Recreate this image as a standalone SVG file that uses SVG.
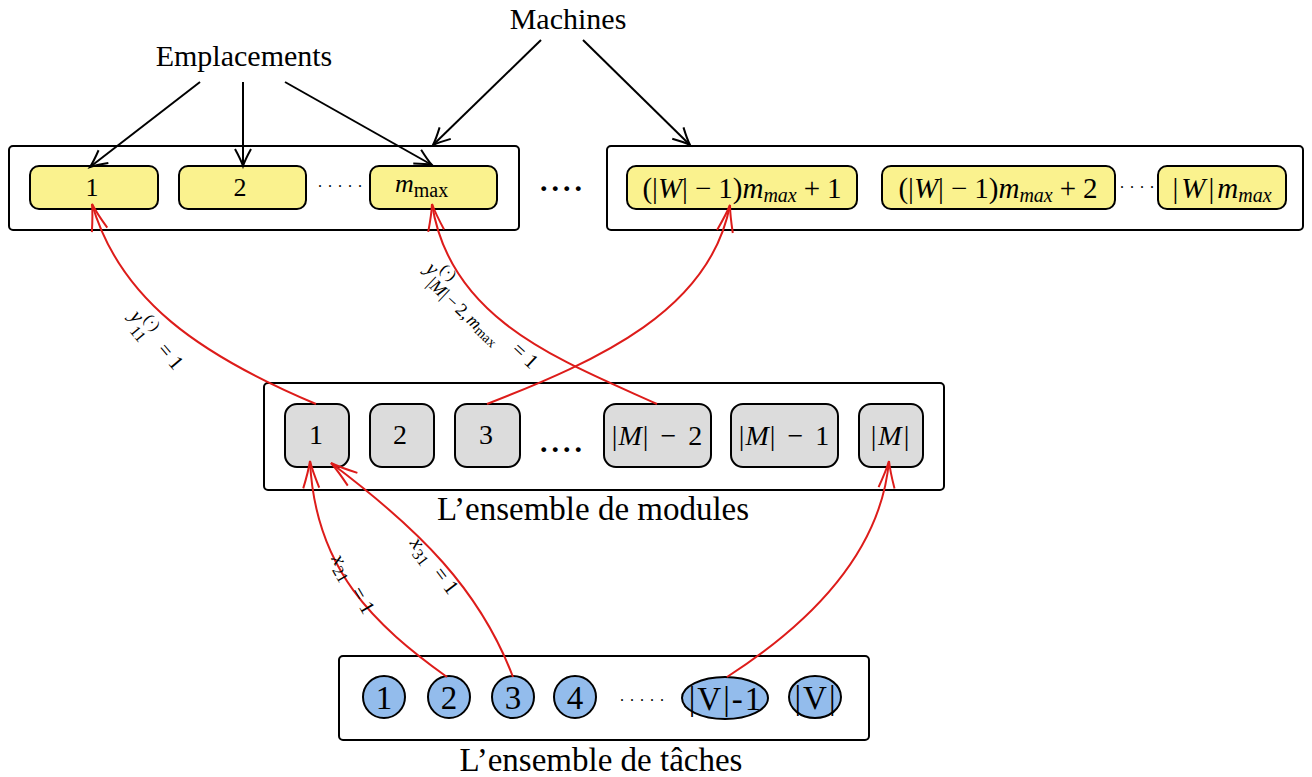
<svg xmlns="http://www.w3.org/2000/svg" width="1312" height="777" viewBox="0 0 1312 777">
<style>
  text { font-family: "Liberation Serif", "DejaVu Serif", serif; fill: #000; }
  .it { font-style: italic; }
  .cont { fill: #fff; stroke: #000; stroke-width: 2; }
  .yel { fill: #faf28e; stroke: #000; stroke-width: 2; }
  .gry { fill: #dcdcdc; stroke: #000; stroke-width: 2; }
  .blu { fill: #93bcec; stroke: #000; stroke-width: 2; }
  .blk { fill: none; stroke: #000; stroke-width: 2; marker-end: url(#ah-black); }
  .red { fill: none; stroke: #dd1c1a; stroke-width: 2; marker-end: url(#ah-red); }
  .lbl { font-size: 33px; }
  .ttl { font-size: 30px; }
  .yt { font-size: 26px; }
  .wt { font-size: 29px; }
  .mt { font-size: 28px; }
  .tt { font-size: 33px; }
  .el { font-size: 21px; }
  .es { font-size: 16px; }
  .dots { font-size: 16px; letter-spacing: 6px; }
  .bdots { font-size: 30px; font-weight: bold; letter-spacing: 4px; }
</style>
<defs>
  <marker id="ah-black" markerUnits="userSpaceOnUse" viewBox="-20 -10 22 20" refX="0" refY="0" markerWidth="22" markerHeight="20" orient="auto" overflow="visible">
    <path d="M-17,-8 Q-6,-2 0,0 Q-6,2 -17,8" fill="none" stroke="#000" stroke-width="2"/>
  </marker>
  <marker id="ah-red" markerUnits="userSpaceOnUse" viewBox="-30 -10 32 20" refX="0" refY="0" markerWidth="32" markerHeight="20" orient="auto" overflow="visible">
    <path d="M-27,-8 Q-10,-2 0,0 Q-10,2 -27,8" fill="none" stroke="#dd1c1a" stroke-width="2"/>
  </marker>
</defs>

<!-- Containers -->
<g id="container-emplacements-1">
  <rect class="cont" x="9" y="146" width="510" height="84" rx="4"/>
</g>
<g id="container-emplacements-2">
  <rect class="cont" x="607" y="146" width="696" height="84" rx="4"/>
</g>
<g id="container-modules">
  <rect class="cont" x="264" y="383" width="680" height="107" rx="4"/>
  <text class="lbl" x="593" y="520" text-anchor="middle">L’ensemble de modules</text>
</g>
<g id="container-taches">
  <rect class="cont" x="339" y="656" width="530" height="84" rx="4"/>
  <text class="lbl" x="601" y="771" text-anchor="middle">L’ensemble de tâches</text>
</g>

<!-- Titles -->
<g id="title-machines">
  <text class="ttl" x="568" y="29" text-anchor="middle">Machines</text>
</g>
<g id="title-emplacements">
  <text class="ttl" x="244" y="66" text-anchor="middle" font-size="31">Emplacements</text>
</g>

<!-- Emplacement nodes -->
<g id="emp-1">
  <rect class="yel" x="30" y="166" width="128" height="43" rx="9"/>
  <text class="yt" x="92" y="196" text-anchor="middle">1</text>
</g>
<g id="emp-2">
  <rect class="yel" x="179" y="166" width="127" height="43" rx="9"/>
  <text class="yt" x="240" y="196" text-anchor="middle">2</text>
</g>
<text class="dots" x="343" y="187" text-anchor="middle">.....</text>
<g id="emp-mmax">
  <rect class="yel" x="370" y="166" width="127" height="43" rx="9"/>
  <text x="395" y="192"><tspan class="it" font-size="26">m</tspan><tspan font-size="20" dy="5">max</tspan></text>
</g>
<text class="bdots" x="563" y="191" text-anchor="middle">....</text>
<g id="emp-w1">
  <rect class="yel" x="627" y="166" width="230" height="43" rx="9"/>
  <text class="wt" x="742" y="198" text-anchor="middle">(|<tspan class="it">W</tspan>|<tspan dx="7">−</tspan><tspan dx="7">1)</tspan><tspan class="it">m</tspan><tspan class="it" font-size="20" dy="4">max</tspan><tspan dy="-4" dx="7">+</tspan><tspan dx="7">1</tspan></text>
</g>
<g id="emp-w2">
  <rect class="yel" x="882" y="166" width="233" height="43" rx="9"/>
  <text class="wt" x="998" y="198" text-anchor="middle">(|<tspan class="it">W</tspan>|<tspan dx="7">−</tspan><tspan dx="7">1)</tspan><tspan class="it">m</tspan><tspan class="it" font-size="20" dy="4">max</tspan><tspan dy="-4" dx="7">+</tspan><tspan dx="7">2</tspan></text>
</g>
<text class="dots" x="1140" y="188" text-anchor="middle" letter-spacing="5">....</text>
<g id="emp-wmax">
  <rect class="yel" x="1158" y="166" width="128" height="43" rx="9"/>
  <text class="wt" x="1222" y="198" text-anchor="middle">|<tspan class="it" dx="3">W</tspan><tspan dx="3">|</tspan><tspan class="it" dx="3">m</tspan><tspan class="it" font-size="20" dy="4">max</tspan></text>
</g>

<!-- Module nodes -->
<g id="mod-1">
  <rect class="gry" x="285" y="404" width="64" height="63" rx="12"/>
  <text class="mt" x="316" y="444" text-anchor="middle">1</text>
</g>
<g id="mod-2">
  <rect class="gry" x="370" y="404" width="64" height="63" rx="12"/>
  <text class="mt" x="400" y="444" text-anchor="middle">2</text>
</g>
<g id="mod-3">
  <rect class="gry" x="455" y="404" width="65" height="63" rx="12"/>
  <text class="mt" x="486" y="444" text-anchor="middle">3</text>
</g>
<text class="bdots" x="563" y="452" text-anchor="middle">....</text>
<g id="mod-m2">
  <rect class="gry" x="604" y="404" width="107" height="63" rx="12"/>
  <text class="mt" x="657" y="445" text-anchor="middle">|<tspan class="it" dx="1">M</tspan><tspan dx="1">|</tspan><tspan dx="12">−</tspan><tspan dx="12">2</tspan></text>
</g>
<g id="mod-m1">
  <rect class="gry" x="731" y="404" width="107" height="63" rx="12"/>
  <text class="mt" x="784" y="445" text-anchor="middle">|<tspan class="it" dx="1">M</tspan><tspan dx="1">|</tspan><tspan dx="12">−</tspan><tspan dx="12">1</tspan></text>
</g>
<g id="mod-m">
  <rect class="gry" x="859" y="404" width="64" height="63" rx="12"/>
  <text class="mt" x="891" y="445" text-anchor="middle" letter-spacing="2">|<tspan class="it">M</tspan>|</text>
</g>

<!-- Task nodes -->
<g id="task-1">
  <ellipse class="blu" cx="384" cy="697" rx="21" ry="21"/>
  <text class="tt" x="384" y="709" text-anchor="middle">1</text>
</g>
<g id="task-2">
  <ellipse class="blu" cx="449" cy="697" rx="21" ry="21"/>
  <text class="tt" x="449" y="709" text-anchor="middle">2</text>
</g>
<g id="task-3">
  <ellipse class="blu" cx="513" cy="697" rx="21" ry="21"/>
  <text class="tt" x="513" y="709" text-anchor="middle">3</text>
</g>
<g id="task-4">
  <ellipse class="blu" cx="575" cy="697" rx="21" ry="21"/>
  <text class="tt" x="575" y="709" text-anchor="middle">4</text>
</g>
<text class="dots" x="645" y="701" text-anchor="middle">.....</text>
<g id="task-v1">
  <ellipse class="blu" cx="725" cy="698" rx="43" ry="21"/>
  <text class="tt" x="726" y="710" text-anchor="middle" letter-spacing="2">|V|-1</text>
</g>
<g id="task-v">
  <ellipse class="blu" cx="815" cy="697" rx="26" ry="21"/>
  <text class="tt" x="816" y="709" text-anchor="middle" letter-spacing="2">|V|</text>
</g>

<!-- Connectors -->
<g id="connectors">
  <line class="blk" x1="200" y1="82" x2="90" y2="167"/>
  <line class="blk" x1="243" y1="82" x2="243" y2="166"/>
  <line class="blk" x1="285" y1="82" x2="432" y2="165"/>
  <line class="blk" x1="541" y1="40" x2="433" y2="145"/>
  <line class="blk" x1="583" y1="40" x2="690" y2="145"/>

  <path class="red" d="M316,404 C200,355 120,300 92,204"/>
  <path class="red" d="M657,404 C560,360 450,320 432,204"/>
  <path class="red" d="M487,404 C600,360 710,310 730,205"/>
  <path class="red" d="M447,677 C375,625 315,570 310,461"/>
  <path class="red" d="M513,677 C480,590 420,530 331,463"/>
  <path class="red" d="M727,677 C800,630 880,560 889,461"/>

  <g transform="translate(154,347) rotate(50)">
    <text class="el it" x="-39" y="0">y</text>
    <text class="es" x="-28" y="-9">(·)</text>
    <text class="es" x="-28" y="9">11</text>
    <text class="el" x="4" y="0">= 1</text>
  </g>
  <g transform="translate(490,332) rotate(43)">
    <text class="el it" x="-90" y="0">y</text>
    <text class="es" x="-79" y="-10">(·)</text>
    <text x="-79" y="9" font-size="18">|<tspan class="it">M</tspan>|<tspan dx="3">−</tspan><tspan dx="3">2,</tspan><tspan class="it" dx="2">m</tspan><tspan font-size="14" dy="2">max</tspan></text>
    <text class="el" x="28" y="0">= 1</text>
  </g>
  <g transform="translate(349,590) rotate(60)">
    <text class="el it" x="-36" y="0">x</text>
    <text class="es" x="-26" y="5">21</text>
    <text class="el" x="2" y="0">= 1</text>
  </g>
  <g transform="translate(431,572) rotate(53)">
    <text class="el it" x="-36" y="0">x</text>
    <text class="es" x="-26" y="5">31</text>
    <text class="el" x="2" y="0">= 1</text>
  </g>
</g>
</svg>
